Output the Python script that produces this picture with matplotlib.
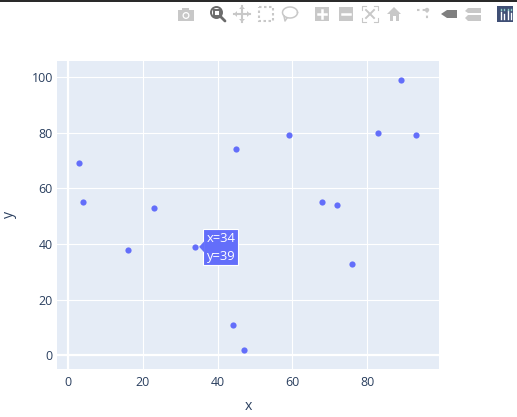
import numpy as np
import matplotlib
matplotlib.use("Agg")
import matplotlib.pyplot as plt
from matplotlib.patches import Rectangle, Polygon, Circle

plt.rcParams['font.family'] = ['Open Sans', 'DejaVu Sans']

x_values = [3, 4, 16, 23, 34, 45, 44, 47, 59, 68, 72, 76, 83, 89, 93]
y_values = [69, 55, 38, 53, 39, 74, 11, 2, 79, 55, 54, 33, 80, 99, 79]
x_ticks = [0, 20, 40, 60, 80]
y_ticks = [0, 20, 40, 60, 80, 100]
hover_x = 34
hover_y = 39

W, H = 517, 417
TEXT = '#2a3f5f'
BLUE = '#636efa'
ICON = '#c8c8c8'


def draw_toolbar(ov):
    # camera
    ov.add_patch(Rectangle((178, 10), 16, 11, fc=ICON, ec='none'))
    ov.add_patch(Rectangle((182, 8), 7, 3, fc=ICON, ec='none'))
    ov.add_patch(Circle((186, 15.5), 3.5, fc='white', ec='none'))
    ov.add_patch(Circle((186, 15.5), 2.2, fc=ICON, ec='none'))
    # zoom, the active one
    ov.add_patch(Rectangle((213.5, 9.5), 6, 6, fc='none', ec='#6b6b6b', lw=1.4))
    ov.add_patch(Circle((216.5, 12.5), 5.5, fc='none', ec='#6b6b6b', lw=1.4))
    ov.plot([221, 225], [17, 21], color='#6b6b6b', lw=2, solid_capstyle='round')
    # pan
    ov.plot([234, 250], [14, 14], color=ICON, lw=1.5)
    ov.plot([242, 242], [6, 22], color=ICON, lw=1.5)
    for pts in ([(234, 14), (237, 11), (237, 17)], [(250, 14), (247, 11), (247, 17)],
                [(242, 6), (239, 9), (245, 9)], [(242, 22), (239, 19), (245, 19)]):
        ov.add_patch(Polygon(pts, fc=ICON, ec='none'))
    # box select
    ov.add_patch(Rectangle((259, 7), 14, 14, fc='none', ec=ICON, lw=1.5, ls=(0, (1.2, 1.2))))
    # lasso
    t = np.linspace(0, 2 * np.pi, 60)
    ov.plot(290 + 7.5 * np.cos(t), 12.5 + 5.5 * np.sin(t), color=ICON, lw=1.1)
    ov.plot([284, 285, 287], [16, 21, 18], color=ICON, lw=1.1)
    # zoom in and zoom out
    ov.add_patch(Rectangle((315, 7), 14, 14, fc=ICON, ec='none'))
    ov.plot([318, 326], [14, 14], color='white', lw=1.8)
    ov.plot([322, 322], [10, 18], color='white', lw=1.8)
    ov.add_patch(Rectangle((339, 7), 14, 14, fc=ICON, ec='none'))
    ov.plot([342, 350], [14, 14], color='white', lw=1.8)
    # autoscale
    ov.plot([362, 362, 366], [10, 6, 6], color=ICON, lw=0.8)
    ov.plot([374, 378, 378], [6, 6, 10], color=ICON, lw=0.8)
    ov.plot([362, 362, 366], [18, 22, 22], color=ICON, lw=0.8)
    ov.plot([374, 378, 378], [22, 22, 18], color=ICON, lw=0.8)
    ov.plot([366, 374], [10, 18], color=ICON, lw=1.4)
    ov.plot([366, 374], [18, 10], color=ICON, lw=1.4)
    # home
    ov.add_patch(Polygon([(387, 14), (394, 7), (401, 14)], fc=ICON, ec='none'))
    ov.add_patch(Rectangle((389.5, 14), 9, 7, fc=ICON, ec='none'))
    ov.add_patch(Rectangle((392.5, 16), 3, 5, fc='white', ec='none'))
    # spikes
    ov.plot([417, 427], [10, 10], color=ICON, lw=1.5, ls=(0, (1.2, 1.5)))
    ov.plot([427, 427], [10, 21], color=ICON, lw=1.5, ls=(0, (1.2, 1.5)))
    ov.add_patch(Circle((427, 10), 2.2, fc=ICON, ec='none'))
    # hover closest
    ov.add_patch(Polygon([(441, 14), (447, 10), (457, 10), (457, 18), (447, 18)],
                         fc='#7f7f7f', ec='none'))
    # hover compare
    ov.add_patch(Polygon([(465, 11), (468, 8), (481, 8), (481, 13), (468, 13)],
                         fc=ICON, ec='none'))
    ov.add_patch(Polygon([(465, 18), (468, 15), (481, 15), (481, 21), (468, 21)],
                         fc=ICON, ec='none'))
    # plotly logo
    ov.add_patch(Rectangle((497, 6), 16, 16, fc='#3f4f75', ec='none'))
    for bx, top in ((500.5, 12), (504, 14), (507.5, 11), (511, 13)):
        ov.plot([bx, bx], [top, 19], color='white', lw=1)
        ov.plot([bx, bx], [9, 10], color='#8fd0c8', lw=1)


def main():
    fig = plt.figure(figsize=(W / 100, H / 100), dpi=100)
    ax = fig.add_axes([57 / W, 1 - 369 / H, (439 - 57) / W, (369 - 60.5) / H])
    ax.set_facecolor('#e5ecf6')
    for side in ax.spines.values():
        side.set_visible(False)

    ax.set_xlim(-2.94, 99.2)
    ax.set_ylim(-4.85, 105.9)
    ax.set_xticks(x_ticks)
    ax.set_yticks(y_ticks)
    ax.grid(True, color='white', linewidth=0.8)
    ax.axhline(0, color='white', linewidth=1.6, zorder=1.5)
    ax.axvline(0, color='white', linewidth=1.6, zorder=1.5)
    ax.set_axisbelow(True)
    ax.tick_params(length=0, labelsize=8.9, labelcolor=TEXT)
    ax.tick_params(axis='x', pad=5)
    ax.tick_params(axis='y', pad=3)
    ax.set_xlabel('x', fontsize=10.2, color=TEXT, labelpad=7)
    ax.set_ylabel('y', fontsize=10.2, color=TEXT, labelpad=10.5)

    ax.scatter(x_values, y_values, s=20, color=BLUE, linewidths=0, zorder=3, clip_on=False)

    # hover label sits in pixels next to its point
    px, py = ax.transData.transform((hover_x, hover_y))
    ax.add_patch(Rectangle((px + 8, py - 18.5), 35, 36, transform=None, fc=BLUE, ec='white',
                           lw=0.8, zorder=5))
    tip = [(px + 4, py), (px + 9, py + 5.5), (px + 9, py - 5.5)]
    ax.add_patch(Polygon(tip, transform=None, fc=BLUE, ec='none', zorder=6))
    ax.annotate(f'x={hover_x}\ny={hover_y}', (hover_x, hover_y), xytext=(12, -0.5),
                textcoords='offset pixels', ha='left', va='center', color='white',
                fontsize=9.4, linespacing=1.5, zorder=7)

    ov = fig.add_axes([0, 0, 1, 1], zorder=10)
    ov.set_xlim(0, W)
    ov.set_ylim(H, 0)
    ov.axis('off')
    ov.patch.set_alpha(0)
    ov.plot([0, W], [0.5, 0.5], color='black', lw=1.2)
    draw_toolbar(ov)

    fig.savefig('out.png', dpi=100)


if __name__ == "__main__":
    main()
